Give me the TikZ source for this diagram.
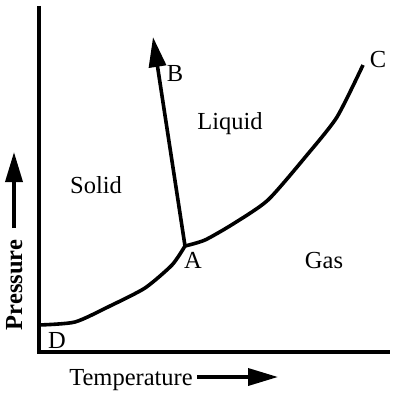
\documentclass[tikz,border=0pt]{standalone}
\usepackage{fontspec}
\setmainfont{Liberation Serif}
\usetikzlibrary{arrows.meta}

\begin{document}
\begin{tikzpicture}[x=1pt,y=-1pt]
\tikzstyle{every node}=[inner sep=0pt, anchor=base, font=\fontsize{24.5}{28}\selectfont]
\tikzstyle{curve}=[line width=3.6pt, line join=round]
\tikzstyle{bigarrow}=[line width=3.6pt, -{Triangle[length=30pt,width=17pt]}]
\useasboundingbox (0,0) rectangle (403,395);
% axes
\coordinate (top) at (39,6);
\coordinate (o) at (39,352);
\coordinate (right) at (390,352);
\draw[line width=3.6pt] (top) -- (o) -- (right);
% phase boundaries
\coordinate (d) at (39,325);
\coordinate (d1) at (75,322);
\coordinate (d2) at (110,306);
\coordinate (d3) at (145,288);
\coordinate (d4) at (172,265);
\coordinate (a) at (185,246);
\coordinate (c1) at (205,240);
\coordinate (c2) at (233,224);
\coordinate (c3) at (268,200);
\coordinate (c4) at (307,155);
\coordinate (c5) at (337,117);
\coordinate (c) at (363,65);
\coordinate (b) at (153,37);
\draw[curve] plot[smooth, tension=0.4] coordinates {(d) (d1) (d2) (d3) (d4) (a)};
\draw[curve] plot[smooth, tension=0.4] coordinates {(a) (c1) (c2) (c3) (c4) (c5) (c)};
\draw[bigarrow] (a) -- (b);
% labels
\node (lA) at (193,268) {A};
\node (lB) at (175,82) {B};
\node (lC) at (378,68) {C};
\node (lD) at (57,348) {D};
\node (solid) at (96,193) {Solid};
\node (liquid) at (230,130) {Liquid};
\node (gas) at (324,268) {Gas};
\node (temp) at (131,385) {Temperature};
\node[rotate=90, font=\fontsize{24.5}{28}\selectfont\bfseries] (pres) at (22,285) {Pressure};
% axis arrows
\coordinate (t0) at (197,377);
\coordinate (t1) at (278,377);
\coordinate (p0) at (14,228);
\coordinate (p1) at (14,152);
\draw[bigarrow] (t0) -- (t1);
\draw[bigarrow] (p0) -- (p1);
\end{tikzpicture}
\end{document}
